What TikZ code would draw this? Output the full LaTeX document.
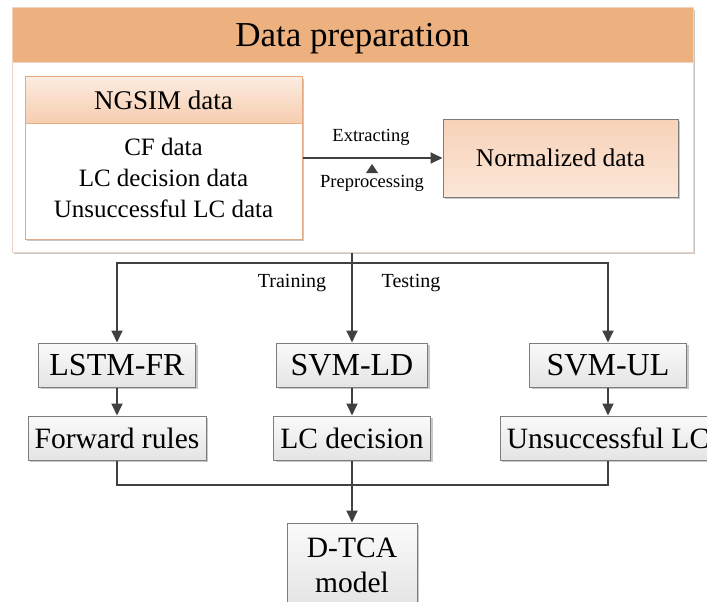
\documentclass[tikz,border=0pt]{standalone}
\usepackage{fontspec}
\setmainfont{Liberation Serif}
\usetikzlibrary{arrows.meta,shadows}

\definecolor{lineclr}{RGB}{64,64,64}
\definecolor{headOrange}{RGB}{237,176,127}
\definecolor{prepEdge}{RGB}{240,212,192}
\definecolor{ngsimEdge}{RGB}{228,170,130}
\definecolor{peachTop}{RGB}{252,236,224}
\definecolor{peachBot}{RGB}{246,205,175}
\definecolor{normTop}{RGB}{247,210,184}
\definecolor{normBot}{RGB}{251,230,215}
\definecolor{grayTop}{RGB}{250,250,250}
\definecolor{grayBot}{RGB}{228,228,228}
\definecolor{boxEdge}{RGB}{125,125,125}

\begin{document}
\begin{tikzpicture}[x=1pt,y=-1pt,
  shade/.style={drop shadow={shadow xshift=2pt,shadow yshift=-2pt,opacity=0.3,fill=black!70}},
  box/.style={draw=boxEdge,line width=1pt,inner sep=0pt,shade},
  graybox/.style={box,top color=grayTop,bottom color=grayBot,minimum height=44pt},
  link/.style={draw=lineclr,line width=1.8pt},
  arr/.style={link,-{Triangle[length=12pt,width=11pt]}},
  lbl/.style={inner sep=0pt,font=\fontsize{18.5}{22}\selectfont},
  big/.style={font=\fontsize{32}{36}\selectfont},
  mid/.style={font=\fontsize{29.5}{35}\selectfont}]

\clip (0,0) rectangle (707,602);
\fill[white] (0,0) rectangle (707,602);

% data preparation frame
\node[draw=prepEdge,line width=1pt,fill=white,inner sep=0pt,shade,
      minimum width=681pt,minimum height=244pt] (prep) at (352.5,130) {};
\node[draw=prepEdge,line width=1pt,fill=headOrange,inner sep=0pt,
      minimum width=681pt,minimum height=55pt] (prephead) at (352.5,35.5) {};
\node[inner sep=0pt,font=\fontsize{35}{40}\selectfont] (preptitle) at (352.5,39) {Data preparation};

% NGSIM data block
\node[draw=ngsimEdge,line width=1pt,fill=white,inner sep=0pt,shade,
      minimum width=277pt,minimum height=162pt] (ngsim) at (163.5,158) {};
\node[draw=ngsimEdge,line width=1pt,top color=peachTop,bottom color=peachBot,inner sep=0pt,
      minimum width=277pt,minimum height=46pt,
      font=\fontsize{27}{30}\selectfont] (ngsimhead) at (163.5,100) {NGSIM data};
\node[align=center,inner sep=0pt,font=\fontsize{25}{31}\selectfont] (ngsimbody) at (163.5,178)
  {CF data\\LC decision data\\Unsuccessful LC data};

% normalized data
\node[box,top color=normTop,bottom color=normBot,
      minimum width=235pt,minimum height=78pt,
      font=\fontsize{25.5}{30}\selectfont] (norm) at (560.5,158) {Normalized data};

\draw[arr] (ngsim.east) -- (norm.west);
\node[lbl] (extract) at (371,137) {Extracting};
\node[lbl] (preproc) at (372,183) {Preprocessing};
\fill[lineclr] (366,173) -- (378,173) -- (372,164) -- cycle;

% model boxes
\node[graybox,big,minimum width=157pt] (lstm) at (117,365) {LSTM-FR};
\node[graybox,big,minimum width=151pt] (svmld) at (352,365) {SVM-LD};
\node[graybox,big,minimum width=157pt] (svmul) at (608,365) {SVM-UL};

\node[graybox,mid,minimum width=178pt] (fwd) at (117,438) {Forward rules};
\node[graybox,mid,minimum width=157pt] (lcdec) at (352,438) {LC decision};
\node[graybox,mid,minimum width=216pt] (unsucc) at (608,438) {Unsuccessful LC};

\node[graybox,mid,align=center,minimum width=130pt,minimum height=84pt] (dtca) at (352,565)
  {D-TCA\\model};

% training / testing split
\coordinate (split) at (352,263);
\draw[arr] (svmld.north |- prep.south) -- (svmld.north);
\draw[arr] (split) -| (lstm.north);
\draw[arr] (split) -| (svmul.north);
\node[inner sep=0pt,font=\fontsize{20}{24}\selectfont] (train) at (292,283) {Training};
\node[inner sep=0pt,font=\fontsize{20}{24}\selectfont] (test) at (411,283) {Testing};

\draw[arr] (lstm) -- (fwd);
\draw[arr] (svmld) -- (lcdec);
\draw[arr] (svmul) -- (unsucc);

% merge into the final model
\coordinate (join) at (352,485);
\draw[link] (fwd.south) |- (join) -| (unsucc.south);
\draw[arr] (lcdec.south) -- (dtca.north);
\end{tikzpicture}
\end{document}
